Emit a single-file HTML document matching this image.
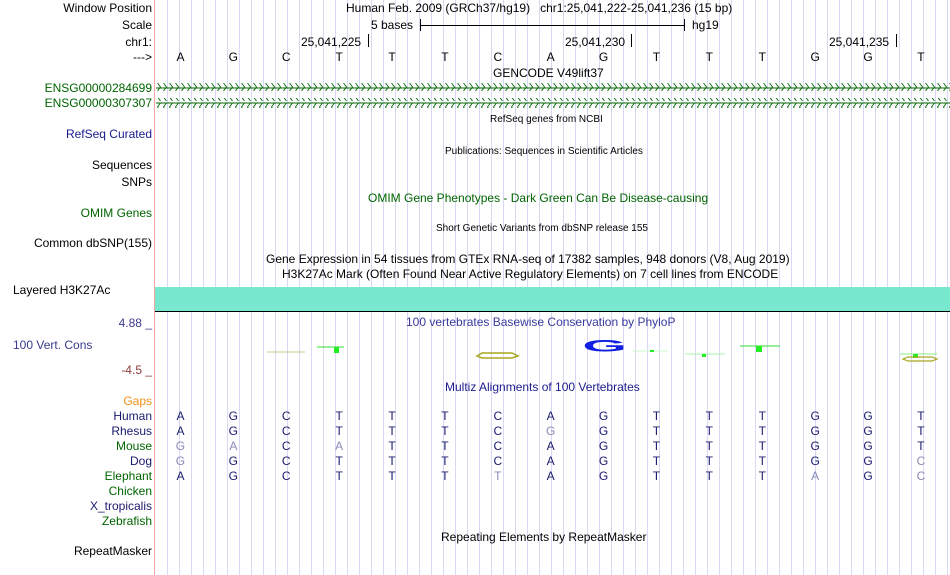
<!DOCTYPE html>
<html><head><meta charset="utf-8"><style>
body{margin:0;width:950px;height:575px;background:#fff;position:relative;overflow:hidden;font-family:"Liberation Sans",sans-serif;font-size:12px;color:#000}
#grid{position:absolute;left:155px;top:0;width:795px;height:575px;background:repeating-linear-gradient(to right,transparent 0,transparent 11px,#d8d8f4 11px,#d8d8f4 12px);background-position:1px 0}
#red{position:absolute;left:154px;top:0;width:1px;height:575px;background:#f4a6a6}
.l{position:absolute;right:798px;white-space:nowrap;line-height:14px}
.c{position:absolute;white-space:nowrap;line-height:14px}
.row{position:absolute;left:154px;display:flex;line-height:14px}
.row span{width:52.9px;text-align:center}
.b{color:#1a1a6e}.g{color:#006400}.gr{color:#8a8ab8}
.s{font-size:10px}
</style></head><body>
<div id="grid"></div><div id="red"></div>
<div class="l" style="top:1px">Window Position</div>
<div class="l" style="top:18px">Scale</div>
<div class="l" style="top:35px">chr1:</div>
<div class="l" style="top:50px">---&gt;</div>
<div class="l g" style="top:81px">ENSG00000284699</div>
<div class="l g" style="top:96px">ENSG00000307307</div>
<div class="l" style="top:127px;color:#1a1a8e">RefSeq Curated</div>
<div class="l" style="top:158px">Sequences</div>
<div class="l" style="top:175px">SNPs</div>
<div class="l g" style="top:206px">OMIM Genes</div>
<div class="l" style="top:236px">Common dbSNP(155)</div>
<div class="c" style="top:283px;left:13px">Layered H3K27Ac</div>
<div class="l" style="top:316px;color:#3a3a8e">4.88 _</div>
<div class="c" style="top:338px;left:13px;color:#3a3a8e">100 Vert. Cons</div>
<div class="l" style="top:363px;color:#8e3a3a">-4.5 _</div>
<div class="l" style="top:394px;color:#f0901a">Gaps</div>
<div class="l b" style="top:409px">Human</div>
<div class="l b" style="top:424px">Rhesus</div>
<div class="l g" style="top:439px">Mouse</div>
<div class="l b" style="top:454px">Dog</div>
<div class="l g" style="top:469px">Elephant</div>
<div class="l g" style="top:484px">Chicken</div>
<div class="l b" style="top:499px">X_tropicalis</div>
<div class="l g" style="top:514px">Zebrafish</div>
<div class="l" style="top:544px">RepeatMasker</div>

<div class="c" style="top:1px;left:346px">Human Feb. 2009 (GRCh37/hg19)&nbsp;&nbsp; chr1:25,041,222-25,041,236 (15 bp)</div>
<div class="c" style="top:18px;left:371px">5 bases</div>
<div class="c" style="top:18px;left:692px">hg19</div>
<div style="position:absolute;left:420px;top:25px;width:264px;height:1px;background:#000"></div>
<div style="position:absolute;left:420px;top:19px;width:1px;height:12px;background:#000"></div>
<div style="position:absolute;left:684px;top:19px;width:1px;height:12px;background:#000"></div>
<div class="c" style="top:35px;left:301px">25,041,225</div><div style="position:absolute;left:368px;top:34px;width:1px;height:13px;background:#000"></div>
<div class="c" style="top:35px;left:565px">25,041,230</div><div style="position:absolute;left:631px;top:34px;width:1px;height:13px;background:#000"></div>
<div class="c" style="top:35px;left:829px">25,041,235</div><div style="position:absolute;left:896px;top:34px;width:1px;height:13px;background:#000"></div>
<div class="row" style="top:50px"><span>A</span><span>G</span><span>C</span><span>T</span><span>T</span><span>T</span><span>C</span><span>A</span><span>G</span><span>T</span><span>T</span><span>T</span><span>G</span><span>G</span><span>T</span></div>
<div class="c" style="top:66px;left:493px">GENCODE V49lift37</div>
<svg style="position:absolute;left:156px;top:82px" width="794" height="26">
<defs><pattern id="r" width="6" height="10" patternUnits="userSpaceOnUse"><path d="M1.5 1 L4.5 5 L1.5 9" fill="none" stroke="#006400" stroke-width="0.9"/></pattern>
<pattern id="lp" width="6" height="10" patternUnits="userSpaceOnUse"><path d="M4.5 1 L1.5 5 L4.5 9" fill="none" stroke="#006400" stroke-width="0.9"/></pattern></defs>
<rect x="0" y="1" width="794" height="10" fill="url(#r)"/><line x1="0" y1="6" x2="794" y2="6" stroke="#006400"/>
<rect x="0" y="16" width="794" height="10" fill="url(#lp)"/><line x1="0" y1="21" x2="794" y2="21" stroke="#006400"/>
</svg>
<div class="c s" style="top:113px;left:490px">RefSeq genes from NCBI</div>
<div class="c s" style="top:145px;left:445px">Publications: Sequences in Scientific Articles</div>
<div class="c g" style="top:191px;left:368px">OMIM Gene Phenotypes - Dark Green Can Be Disease-causing</div>
<div class="c s" style="top:222px;left:436px">Short Genetic Variants from dbSNP release 155</div>
<div class="c" style="top:252px;left:266px">Gene Expression in 54 tissues from GTEx RNA-seq of 17382 samples, 948 donors (V8, Aug 2019)</div>
<div class="c" style="top:267px;left:282px">H3K27Ac Mark (Often Found Near Active Regulatory Elements) on 7 cell lines from ENCODE</div>
<div style="position:absolute;left:155px;top:287px;width:795px;height:24px;background:#78e9cf"></div>
<div style="position:absolute;left:155px;top:311px;width:795px;height:1px;background:#000"></div>
<div class="c" style="top:315px;left:406px;color:#3a3a9e">100 vertebrates Basewise Conservation by PhyloP</div>
<svg style="position:absolute;left:0;top:0" width="950" height="575">
<line x1="267" y1="352" x2="305" y2="352" stroke="#c8c890"/>
<line x1="317" y1="347" x2="344" y2="347" stroke="#33dd33"/><rect x="334" y="347" width="5" height="6" fill="#22ee22"/>
<path d="M477 356 L482 353 L512 353 L518 356 L512 358 L482 358 Z" fill="none" stroke="#a8a820" stroke-width="1.5"/>
<text x="224" y="469" font-family="Liberation Sans" font-weight="bold" font-size="22" fill="#1020e0" transform="scale(2.6,0.75)">G</text>
<line x1="633" y1="351" x2="668" y2="351" stroke="#ccf5cc"/><rect x="650" y="350" width="4" height="2" fill="#22ee22"/>
<line x1="685" y1="354" x2="725" y2="354" stroke="#aaf0aa"/><rect x="702" y="354" width="4" height="3" fill="#22ee22"/>
<line x1="740" y1="346" x2="780" y2="346" stroke="#33dd33"/><rect x="756" y="346" width="6" height="6" fill="#22ee22"/>
<line x1="900" y1="354" x2="937" y2="354" stroke="#88ee88"/><rect x="913" y="354" width="5" height="4" fill="#22ee22"/>
<path d="M903 359 L908 357 L932 357 L937 359 L932 361 L908 361 Z" fill="none" stroke="#a8a820" stroke-width="1.2"/>
</svg>
<div class="c" style="top:380px;left:445px;color:#1a1a8e">Multiz Alignments of 100 Vertebrates</div>
<div class="row b" style="top:409px"><span>A</span><span>G</span><span>C</span><span>T</span><span>T</span><span>T</span><span>C</span><span>A</span><span>G</span><span>T</span><span>T</span><span>T</span><span>G</span><span>G</span><span>T</span></div>
<div class="row b" style="top:424px"><span>A</span><span>G</span><span>C</span><span>T</span><span>T</span><span>T</span><span>C</span><span class="gr">G</span><span>G</span><span>T</span><span>T</span><span>T</span><span>G</span><span>G</span><span>T</span></div>
<div class="row b" style="top:439px"><span class="gr">G</span><span class="gr">A</span><span>C</span><span class="gr">A</span><span>T</span><span>T</span><span>C</span><span>A</span><span>G</span><span>T</span><span>T</span><span>T</span><span>G</span><span>G</span><span>T</span></div>
<div class="row b" style="top:454px"><span class="gr">G</span><span>G</span><span>C</span><span>T</span><span>T</span><span>T</span><span>C</span><span>A</span><span>G</span><span>T</span><span>T</span><span>T</span><span>G</span><span>G</span><span class="gr">C</span></div>
<div class="row b" style="top:469px"><span>A</span><span>G</span><span>C</span><span>T</span><span>T</span><span>T</span><span class="gr">T</span><span>A</span><span>G</span><span>T</span><span>T</span><span>T</span><span class="gr">A</span><span>G</span><span class="gr">C</span></div>
<div class="c" style="top:530px;left:441px">Repeating Elements by RepeatMasker</div>
</body></html>
